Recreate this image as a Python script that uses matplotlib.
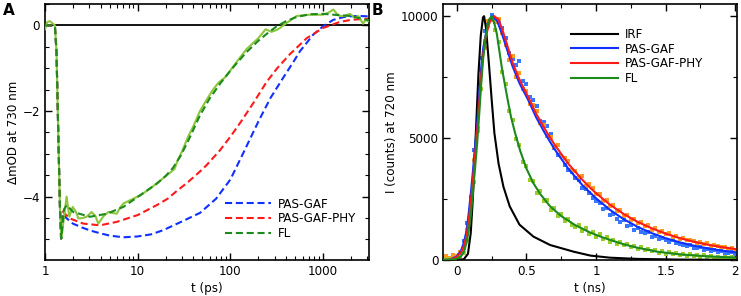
import numpy as np
import matplotlib
matplotlib.use("Agg")
import matplotlib.pyplot as plt
from matplotlib.ticker import MultipleLocator, LogLocator, FixedLocator, NullFormatter

# ---------------- Panel A data (transient absorption at 730 nm) ----------------
t_blue_a = [1.0, 1.2, 1.28, 1.33, 1.39, 1.45, 1.49, 1.55, 1.7, 2.0, 2.5, 3.06, 4.0, 5.0, 7.0,
            10.0, 14.0, 19.0, 25.0, 30.0, 47.0, 70.0, 100.0, 140.0, 200.0, 270.0, 372.0,
            470.0, 565.0, 780.0, 1000.0, 1290.0, 1780.0, 2500.0, 3130.0]
v_blue_a = [0.0, 0.0, -0.03, -0.6, -2.5, -4.25, -4.98, -4.4, -4.5, -4.63, -4.72, -4.79, -4.86,
            -4.91, -4.95, -4.93, -4.88, -4.78, -4.66, -4.58, -4.38, -4.05, -3.6, -2.95, -2.25,
            -1.7, -1.22, -0.88, -0.6, -0.22, -0.02, 0.13, 0.21, 0.22, 0.21]

t_red_a = [1.0, 1.2, 1.28, 1.33, 1.39, 1.45, 1.49, 1.55, 1.86, 2.59, 3.92, 5.93, 10.0, 16.0,
           21.0, 26.0, 34.0, 45.0, 55.0, 77.0, 100.0, 130.0, 176.0, 246.0, 320.0, 440.0,
           665.0, 1000.0, 1510.0, 2000.0, 3130.0]
v_red_a = [0.0, 0.0, -0.03, -0.6, -2.5, -4.25, -4.98, -4.35, -4.51, -4.63, -4.67, -4.59, -4.43,
           -4.2, -4.05, -3.88, -3.68, -3.45, -3.27, -2.92, -2.6, -2.25, -1.82, -1.32, -1.0,
           -0.67, -0.3, -0.06, 0.08, 0.13, 0.16]

t_flfit_a = [1.0, 1.2, 1.28, 1.33, 1.39, 1.45, 1.5, 1.6, 1.71, 2.02, 3.06, 4.63, 7.0, 10.6,
             16.0, 20.0, 24.0, 29.0, 35.0, 47.0, 60.0, 80.0, 110.0, 150.0, 200.0, 246.0,
             316.0, 400.0, 520.0, 720.0, 1000.0, 1290.0, 1950.0, 2700.0, 3130.0]
v_flfit_a = [0.0, 0.0, -0.03, -0.6, -2.5, -4.25, -4.98, -4.3, -4.2, -4.36, -4.47, -4.40, -4.24,
             -3.97, -3.70, -3.52, -3.33, -3.05, -2.7, -2.1, -1.7, -1.32, -0.95, -0.62, -0.36,
             -0.2, -0.02, 0.1, 0.2, 0.26, 0.27, 0.25, 0.22, 0.15, 0.12]

t_fldata_a = [1.0, 1.06, 1.13, 1.2, 1.28, 1.33, 1.39, 1.45, 1.5, 1.6, 1.71, 1.83, 1.99, 2.15,
              2.29, 2.55, 2.81, 3.18, 3.5, 3.76, 4.3, 4.82, 5.3, 5.93, 6.5, 6.99, 8.0, 8.95,
              11.0, 13.6, 17.0, 20.5, 23.0, 25.0, 27.0, 30.0, 35.0, 40.0, 47.0, 55.0, 65.0,
              75.0, 87.0, 100.0, 120.0, 150.0, 200.0, 240.0, 278.0, 320.0, 343.0, 400.0,
              520.0, 720.0, 1000.0, 1150.0, 1290.0, 1400.0, 1510.0, 1700.0, 1950.0, 2200.0,
              2400.0, 2600.0, 2700.0, 2850.0, 3130.0]
v_fldata_a = [-0.09, 0.08, 0.1, 0.05, 0.0, -0.6, -2.5, -4.3, -4.98, -4.5, -4.0, -4.47, -4.24,
              -4.35, -4.51, -4.5, -4.47, -4.36, -4.45, -4.63, -4.45, -4.36, -4.38, -4.40,
              -4.25, -4.16, -4.1, -4.05, -3.95, -3.81, -3.65, -3.5, -3.42, -3.35, -3.15,
              -2.95, -2.6, -2.35, -2.0, -1.75, -1.5, -1.33, -1.22, -1.05, -0.82, -0.55, -0.3,
              -0.09, -0.15, -0.1, -0.06, 0.05, 0.22, 0.25, 0.25, 0.3, 0.37, 0.28, 0.22, 0.22,
              0.27, 0.18, 0.22, 0.1, 0.04, 0.12, 0.1]

legend_a = ["PAS-GAF", "PAS-GAF-PHY", "FL"]

# ---------------- Panel B data (fluorescence decays at 720 nm) ----------------
t_irf = [-0.1, 0.0, 0.05, 0.08, 0.1, 0.115, 0.135, 0.155, 0.172, 0.188, 0.196, 0.21, 0.23,
         0.25, 0.27, 0.3, 0.335, 0.38, 0.45, 0.55, 0.67, 0.84, 0.96, 1.1, 1.3, 1.6, 2.0]
i_irf = [0, 0, 30, 250, 1100, 2500, 5000, 7600, 9200, 9950, 10000, 9500, 8100, 6600, 5200,
         3950, 3000, 2200, 1450, 960, 615, 340, 180, 95, 45, 18, 5]

t_pg_fit = [-0.1, -0.05, 0.0, 0.03, 0.05, 0.07, 0.085, 0.1, 0.115, 0.13, 0.145, 0.16, 0.175,
            0.19, 0.21, 0.23, 0.262, 0.29, 0.323, 0.36, 0.4, 0.45, 0.514, 0.57, 0.634, 0.7,
            0.8, 0.9, 0.96, 1.0, 1.1, 1.2, 1.3, 1.4, 1.5, 1.6, 1.7, 1.8, 1.9, 2.0]
i_pg_fit = [0, 10, 150, 380, 700, 1200, 1900, 2700, 3600, 4600, 5500, 6700, 7900, 8700, 9300,
            9750, 10000, 9800, 9300, 8650, 7950, 7250, 6550, 5850, 5190, 4560, 3750, 3080,
            2750, 2530, 2055, 1669, 1355, 1100, 894, 726, 590, 479, 389, 316]

t_pgp_fit = [-0.1, -0.05, 0.0, 0.03, 0.05, 0.07, 0.085, 0.1, 0.115, 0.13, 0.145, 0.16, 0.175,
             0.19, 0.21, 0.23, 0.25, 0.27, 0.3, 0.33, 0.36, 0.4, 0.45, 0.52, 0.57, 0.64, 0.7,
             0.8, 0.9, 0.96, 1.0, 1.1, 1.2, 1.3, 1.4, 1.5, 1.6, 1.7, 1.8, 1.9, 2.0]
i_pgp_fit = [0, 10, 120, 300, 560, 1000, 1600, 2350, 3250, 4250, 5200, 6350, 7550, 8450, 9200,
             9650, 9930, 10000, 9850, 9400, 8850, 8100, 7400, 6600, 6000, 5300, 4750, 3950,
             3300, 2950, 2740, 2270, 1880, 1560, 1300, 1080, 900, 750, 630, 530, 450]

t_fl_fit = [-0.1, -0.05, 0.0, 0.03, 0.05, 0.07, 0.085, 0.1, 0.115, 0.13, 0.145, 0.16, 0.175,
            0.19, 0.21, 0.23, 0.25, 0.27, 0.287, 0.305, 0.323, 0.345, 0.366, 0.39, 0.419,
            0.454, 0.5, 0.55, 0.6, 0.67, 0.75, 0.85, 0.96, 1.05, 1.2, 1.3, 1.44, 1.6, 1.8, 2.0]
i_fl_fit = [0, 5, 50, 150, 330, 700, 1200, 1800, 2700, 3700, 4700, 5900, 7200, 8300, 9300,
            9850, 10000, 9700, 9290, 8600, 7900, 7200, 6550, 5850, 5200, 4500, 3750, 3150,
            2700, 2200, 1800, 1430, 1120, 920, 640, 500, 340, 230, 150, 100]

# measured counts (channel times in ns)
t_counts = [round(-0.1 + 0.025 * k, 3) for k in range(85)]
c_pg = [60, 20, 40, 90, 180, 300, 760, 1500, 2600, 4500, 6100, 8300, 9400, 9700, 10050, 9850,
        9750, 9500, 9100, 8500, 8250, 8000, 8150, 7350, 7200, 6700, 6550, 6300, 5700, 5650,
        5500, 5150, 4600, 4300, 4250, 3900, 3700, 3600, 3350, 3300, 2950, 2900, 2750, 2550,
        2400, 2350, 2100, 2150, 1850, 1900, 1700, 1550, 1650, 1400, 1450, 1250, 1300, 1150,
        1100, 1150, 950, 1000, 850, 900, 800, 750, 820, 700, 650, 600, 560, 620, 500, 480,
        520, 420, 450, 380, 400, 330, 360, 300, 280, 320, 250]
c_pgp = [120, 150, 80, 200, 150, 320, 500, 1250, 2250, 4100, 5400, 7800, 8700, 9800, 9850,
         9750, 9900, 9300, 8800, 8200, 8350, 7500, 7650, 7000, 6950, 6400, 6350, 6100, 5600,
         5550, 5100, 5050, 4650, 4700, 4250, 4200, 4050, 3700, 3650, 3400, 3450, 3050, 3100,
         2950, 2700, 2700, 2400, 2450, 2200, 2250, 2000, 2050, 1800, 1850, 1650, 1700, 1500,
         1550, 1400, 1420, 1250, 1300, 1150, 1180, 1050, 1100, 950, 1000, 880, 920, 800, 830,
         780, 700, 720, 640, 680, 590, 600, 570, 520, 540, 470, 500, 430]
c_fl = [30, 0, 60, 10, 80, 90, 280, 800, 1950, 3200, 5300, 7000, 9000, 9600, 9900, 9450, 8950,
        7700, 7200, 6100, 5750, 4950, 4700, 4000, 3850, 3300, 3250, 2750, 2850, 2400, 2450,
        2050, 2150, 1800, 1900, 1600, 1700, 1450, 1350, 1450, 1200, 1300, 1050, 1150, 950,
        1050, 850, 950, 750, 820, 650, 720, 600, 650, 520, 580, 450, 520, 400, 460, 350, 400,
        300, 350, 260, 320, 230, 280, 200, 250, 170, 230, 160, 200, 130, 190, 110, 160, 100,
        140, 80, 130, 70, 120, 60]

legend_b = ["IRF", "PAS-GAF", "PAS-GAF-PHY", "FL"]

# ---------------- styling ----------------
FS = 8.6
plt.rcParams.update({
    "font.family": "DejaVu Sans",
    "font.size": FS,
    "axes.linewidth": 1.2,
    "xtick.direction": "in",
    "ytick.direction": "in",
    "xtick.top": True,
    "ytick.right": True,
    "xtick.major.size": 5,
    "ytick.major.size": 5,
    "xtick.minor.size": 3,
    "ytick.minor.size": 3,
    "xtick.major.width": 1.0,
    "ytick.major.width": 1.0,
    "xtick.minor.width": 0.8,
    "ytick.minor.width": 0.8,
    "xtick.labelsize": FS,
    "ytick.labelsize": FS,
})

BLUE = "#1030ff"
RED = "#ff1a1a"
DGREEN = "#1c8a1c"
LGREEN = "#8cc63a"
DOT_BLUE = "#3877ff"
DOT_ORANGE = "#ff9a20"
DOT_GREEN = "#9acc2a"

fig = plt.figure(figsize=(7.41, 2.96), dpi=100)
W, H = 741.0, 296.0
axA = fig.add_axes([45 / W, 1 - 260 / H, (369 - 45) / W, (260 - 4) / H])
axB = fig.add_axes([443.3 / W, 1 - 260 / H, (736.7 - 443.3) / W, (260 - 4) / H])

# ---------------- Panel A ----------------
axA.axhline(0, color="black", lw=1.3, zorder=1)
dash = (0, (3.4, 1.8))
axA.plot(t_fldata_a, v_fldata_a, color=LGREEN, lw=1.5, zorder=3)
lb, = axA.plot(t_blue_a, v_blue_a, color=BLUE, lw=1.5, ls=dash, zorder=2)
lr, = axA.plot(t_red_a, v_red_a, color=RED, lw=1.5, ls=dash, zorder=2)
lg, = axA.plot(t_flfit_a, v_flfit_a, color=DGREEN, lw=1.5, ls=dash, zorder=4)
axA.set_xscale("log")
axA.set_xlim(1, 3130)
axA.set_ylim(-5.48, 0.5)
axA.xaxis.set_major_locator(FixedLocator([1, 10, 100, 1000]))
axA.set_xticklabels(["1", "10", "100", "1000"])
axA.xaxis.set_minor_locator(LogLocator(base=10, subs=np.arange(2, 10), numticks=20))
axA.xaxis.set_minor_formatter(NullFormatter())
axA.yaxis.set_major_locator(MultipleLocator(2))
axA.yaxis.set_minor_locator(MultipleLocator(0.5))
axA.set_xlabel("t (ps)", labelpad=3)
axA.set_ylabel("ΔmOD at 730 nm", labelpad=2)
axA.legend([lb, lr, lg], legend_a, loc="lower left", bbox_to_anchor=(0.54, 0.06),
           frameon=False, handlelength=3.9, handletextpad=0.55, labelspacing=0.14,
           borderpad=0.4, borderaxespad=0.0, fontsize=FS)

# ---------------- Panel B ----------------
ms = 2.2
axB.plot(t_counts, c_pg, ls="none", marker="s", ms=ms, mew=0, color=DOT_BLUE, zorder=2)
axB.plot(t_counts, c_pgp, ls="none", marker="s", ms=ms, mew=0, color=DOT_ORANGE, zorder=2)
axB.plot(t_counts, c_fl, ls="none", marker="s", ms=ms, mew=0, color=DOT_GREEN, zorder=2)
l0, = axB.plot(t_irf, i_irf, color="black", lw=1.5, zorder=3)
l1, = axB.plot(t_pg_fit, i_pg_fit, color=BLUE, lw=1.5, zorder=3)
l2, = axB.plot(t_pgp_fit, i_pgp_fit, color=RED, lw=1.5, zorder=4)
l3, = axB.plot(t_fl_fit, i_fl_fit, color=DGREEN, lw=1.5, zorder=5)
axB.set_xlim(-0.097, 2.01)
axB.set_ylim(0, 10500)
axB.xaxis.set_major_locator(FixedLocator([0, 0.5, 1, 1.5, 2]))
axB.set_xticklabels(["0", "0.5", "1", "1.5", "2"])
axB.xaxis.set_minor_locator(MultipleLocator(0.25))
axB.yaxis.set_major_locator(FixedLocator([0, 5000, 10000]))
axB.yaxis.set_minor_locator(MultipleLocator(2500))
axB.set_xlabel("t (ns)", labelpad=3)
axB.set_ylabel("I (counts) at 720 nm", labelpad=2)
axB.legend([l0, l1, l2, l3], legend_b, loc="upper left", bbox_to_anchor=(0.42, 0.925),
           frameon=False, handlelength=3.9, handletextpad=0.55, labelspacing=0.14,
           borderpad=0.4, borderaxespad=0.0, fontsize=FS)

fig.text(3 / W, 1 - 3 / H, "A", fontsize=11, fontweight="bold", ha="left", va="top")
fig.text(372 / W, 1 - 3 / H, "B", fontsize=11, fontweight="bold", ha="left", va="top")

fig.savefig("out.png", dpi=100)
